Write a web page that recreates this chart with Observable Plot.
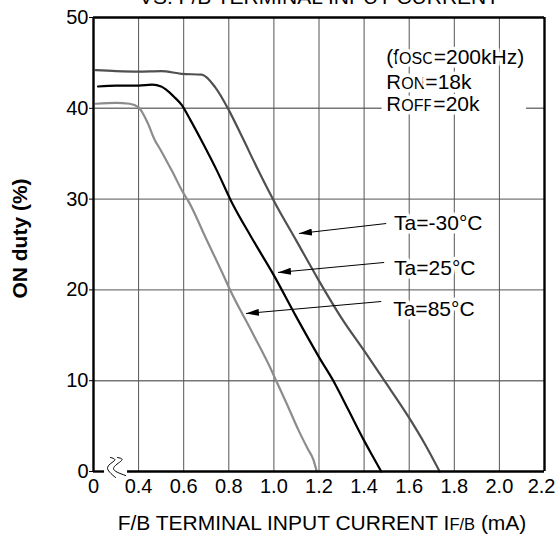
<!DOCTYPE html>
<html><head><meta charset="utf-8">
<script src="https://cdn.jsdelivr.net/npm/d3@7"></script>
<script src="https://cdn.jsdelivr.net/npm/@observablehq/plot@0.6"></script>
<style>
html,body{margin:0;padding:0;background:#fff;}
#chart{width:557px;height:535px;overflow:hidden;}
</style>
</head><body><div id="chart"></div>
<script>
// ---- axes ----
const xTicks = [0.2, 0.4, 0.6, 0.8, 1.0, 1.2, 1.4, 1.6, 1.8, 2.0, 2.2];
const xTickLabels = ["0", "0.4", "0.6", "0.8", "1.0", "1.2", "1.4", "1.6", "1.8", "2.0", "2.2"];
const xGrid = [0.4, 0.6, 0.8, 1.0, 1.2, 1.4, 1.6, 1.8, 2.0];
const yTicks = [0, 10, 20, 30, 40, 50];
const yGrid = [10, 20, 30, 40];

// ---- series ----
const seriesNames = ["Ta=-30°C", "Ta=25°C", "Ta=85°C"];
const seriesColors = ["#505050", "#000000", "#8c8c8c"];

const currentM30 = [0.21, 0.30, 0.40, 0.50, 0.59, 0.68, 0.74, 0.80, 0.86, 0.93, 1.00, 1.10, 1.20, 1.30, 1.40, 1.49, 1.60, 1.67, 1.735];
const dutyM30    = [44.2, 44.1, 44.05, 44.1, 43.8, 43.7, 42.3, 39.8, 36.8, 33.2, 29.8, 25.4, 21.0, 16.9, 13.3, 10.0, 5.9, 3.0, 0];

const current25 = [0.22, 0.30, 0.40, 0.46, 0.50, 0.53, 0.56, 0.59, 0.63, 0.68, 0.75, 0.81, 0.90, 1.00, 1.10, 1.20, 1.27, 1.33, 1.40, 1.44, 1.476];
const duty25    = [42.4, 42.5, 42.5, 42.6, 42.4, 41.9, 41.2, 40.4, 38.7, 36.4, 33.0, 29.8, 25.8, 21.6, 17.0, 12.6, 9.7, 6.8, 3.4, 1.6, 0];

const current85 = [0.21, 0.30, 0.36, 0.40, 0.44, 0.47, 0.50, 0.55, 0.60, 0.62, 0.70, 0.78, 0.80, 0.90, 0.99, 1.01, 1.06, 1.11, 1.15, 1.175, 1.19];
const duty85    = [40.5, 40.6, 40.5, 40.1, 38.4, 36.6, 35.3, 33.0, 30.6, 29.8, 25.6, 21.4, 20.3, 15.5, 11.1, 10.0, 7.3, 4.5, 2.5, 1.3, 0];

// ---- annotations (data units) ----
const labelX = [1.533, 1.533, 1.529];
const labelY = [26.65, 21.59, 17.18];
const arrowFromX = [1.498, 1.489, 1.476];
const arrowFromY = [27.31, 23.02, 18.72];
const arrowToX = [1.111, 1.018, 0.876];
const arrowToY = [26.21, 21.92, 17.40];

const conditionLines = ["(fOSC=200kHz)", "RON=18k", "ROFF=20k"];
const conditionX = 1.498;
const conditionY = [44.93, 42.18, 39.65];

const titleText = "VS. F/B TERMINAL INPUT CURRENT";
const xLabelText = "F/B TERMINAL INPUT CURRENT IF/B (mA)";
const yLabelText = "ON duty (%)";

// axis break symbol (data units)
const breakX1 = [0.2756, 0.2933, 0.2622, 0.2978];
const breakY1 = [1.54, 1.21, 0.44, -0.66];
const breakX2 = [0.3067, 0.3244, 0.2889, 0.3422];
const breakY2 = [1.54, 1.21, 0.33, -0.44];
const bottomSegX1 = [0.2, 0.351];
const bottomSegX2 = [0.249, 2.2];
const gridMaskX = [1.48, 2.12];
const gridMaskY = 40;

// ---- build tables ----
const curves = [];
[[currentM30, dutyM30], [current25, duty25], [current85, duty85]].forEach(([xs, ys], i) => {
  xs.forEach((x, j) => curves.push({series: seriesNames[i], x, y: ys[j]}));
});
const labels = seriesNames.map((name, i) => ({name, x: labelX[i], y: labelY[i]}));
const arrows = seriesNames.map((name, i) => ({x1: arrowFromX[i], y1: arrowFromY[i], x2: arrowToX[i], y2: arrowToY[i]}));
const conds = conditionLines.map((t, i) => ({t, x: conditionX, y: conditionY[i]}));
const breakPts = [];
breakX1.forEach((x, j) => breakPts.push({k: 1, x, y: breakY1[j]}));
breakX2.forEach((x, j) => breakPts.push({k: 2, x, y: breakY2[j]}));
const bottomSegs = bottomSegX1.map((x1, i) => ({x1, x2: bottomSegX2[i], y: 0}));
const xTickRows = xTicks.map((x, i) => ({x, label: xTickLabels[i]}));
const xTickMain = xTickRows.slice(0, -1);
const xTickLast = xTickRows.slice(-1);

const FONT = "'Liberation Sans', Arial, Helvetica, sans-serif";

const plot = Plot.plot({
  width: 557,
  height: 535,
  marginLeft: 93,
  marginRight: 13,
  marginTop: 17,
  marginBottom: 64,
  style: {fontFamily: FONT, fontSize: "20px", color: "black", background: "white", overflow: "visible"},
  x: {domain: [0.2, 2.2], axis: null},
  y: {domain: [0, 50], ticks: yTicks, tickSize: 4, tickPadding: 1, label: null},
  color: {domain: seriesNames, range: seriesColors},
  marks: [
    Plot.ruleY(yGrid, {stroke: "#777", strokeWidth: 1.4}),
    Plot.ruleY([gridMaskY], {x1: gridMaskX[0], x2: gridMaskX[1], stroke: "white", strokeWidth: 4}),
    Plot.ruleX(xGrid, {stroke: "#555", strokeWidth: 1}),
    Plot.line(curves, {x: "x", y: "y", z: "series", stroke: "series", strokeWidth: 2.2, curve: "monotone-x"}),
    Plot.link(arrows, {x1: "x1", y1: "y1", x2: "x2", y2: "y2", stroke: "black", strokeWidth: 1}),
    Plot.text(labels, {x: "x", y: "y", text: "name", textAnchor: "start", lineAnchor: "bottom", fill: "black", stroke: "white", strokeWidth: 7, fontSize: 21}),
    Plot.text(conds, {x: "x", y: "y", text: "t", textAnchor: "start", lineAnchor: "bottom", fill: "black", stroke: "white", strokeWidth: 7, fontSize: 21}),
    // frame
    Plot.ruleX([0.2], {stroke: "black", strokeWidth: 2.4}),
    Plot.ruleX([2.2], {stroke: "black", strokeWidth: 2.4}),
    Plot.ruleY([50], {stroke: "black", strokeWidth: 2.4}),
    Plot.ruleY(bottomSegs, {y: "y", x1: "x1", x2: "x2", stroke: "black", strokeWidth: 2.4}),
    Plot.line(breakPts, {x: "x", y: "y", z: "k", stroke: "black", strokeWidth: 1, curve: "natural"}),
    // x tick labels
    Plot.text(xTickMain, {x: "x", text: "label", frameAnchor: "bottom", lineAnchor: "top", dy: 7, fontSize: 20, fill: "black"}),
    Plot.text(xTickLast, {x: "x", text: "label", frameAnchor: "bottom", lineAnchor: "top", textAnchor: "end", dx: 11, dy: 7, fontSize: 20, fill: "black"}),
    // titles
    Plot.text([titleText], {frameAnchor: "top", textAnchor: "middle", dy: -14, lineAnchor: "bottom", fontSize: 21, fill: "black"}),
    Plot.text([xLabelText], {frameAnchor: "bottom", textAnchor: "middle", dy: 58, dx: 3, lineAnchor: "bottom", fontSize: 21, fill: "black"}),
    Plot.text([yLabelText], {frameAnchor: "left", textAnchor: "middle", dx: -73, dy: -6, rotate: -90, fontSize: 21, fontWeight: "bold", fill: "black"})
  ]
});

document.getElementById("chart").appendChild(plot);

// rich text (small caps suffixes)
const rich = {
  "(fOSC=200kHz)": [["(f"], ["OSC", 16], ["=200kHz)"]],
  "RON=18k": [["R"], ["ON", 16], ["=18k"]],
  "ROFF=20k": [["R"], ["OFF", 16], ["=20k"]],
  "F/B TERMINAL INPUT CURRENT IF/B (mA)": [["F/B TERMINAL INPUT CURRENT I"], ["F/B", 16.5], [" (mA)"]]
};
d3.select(plot).selectAll("text").each(function () {
  const parts = rich[this.textContent];
  if (!parts) return;
  const sel = d3.select(this);
  sel.text(null);
  parts.forEach(([s, fs]) => {
    const ts = sel.append("tspan").text(s);
    if (fs) ts.attr("font-size", fs);
  });
});

// filled arrowheads
const svg = d3.select(plot);
const defs = svg.insert("defs", ":first-child");
defs.append("marker")
  .attr("id", "ahead")
  .attr("viewBox", "0 0 13 7")
  .attr("refX", 13).attr("refY", 3.5)
  .attr("markerWidth", 13).attr("markerHeight", 7)
  .attr("markerUnits", "userSpaceOnUse")
  .attr("orient", "auto")
  .append("path").attr("d", "M0,0L13,3.5L0,7Z").attr("fill", "black");
svg.selectAll("g[aria-label='link'] path").attr("marker-end", "url(#ahead)");
</script>
</body></html>
